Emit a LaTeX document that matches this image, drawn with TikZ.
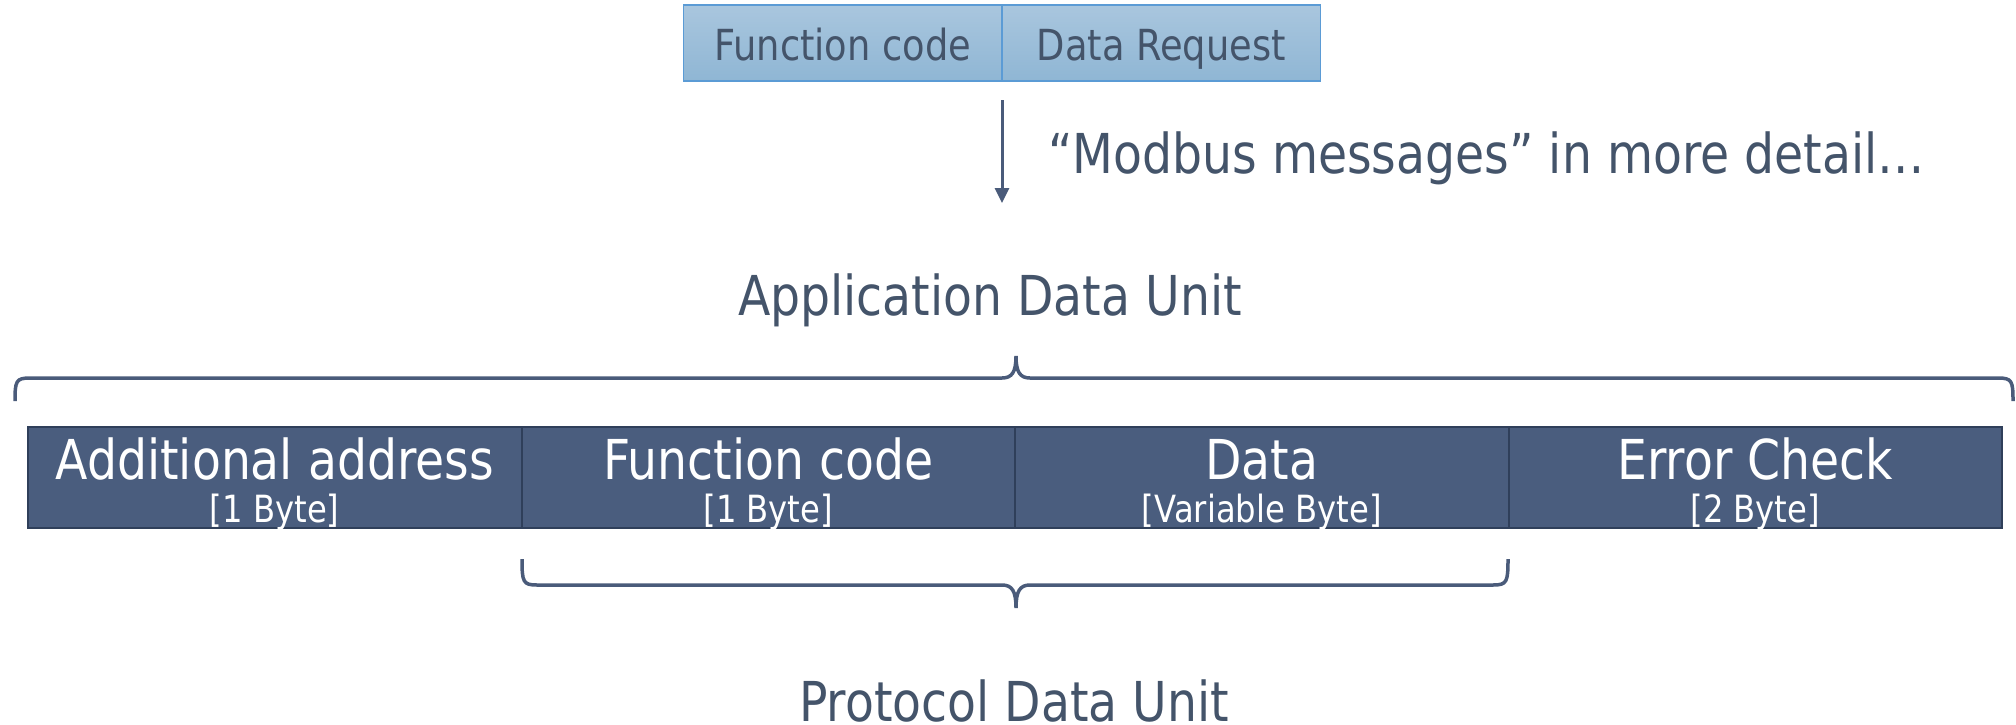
\documentclass[tikz,border=0pt]{standalone}
\usepackage{fontspec}
\setmainfont[FakeStretch=0.86]{DejaVu Sans}
\usetikzlibrary{arrows.meta}
\definecolor{txt}{HTML}{44546A}
\definecolor{cellfill}{HTML}{4A5D7E}
\definecolor{celldraw}{HTML}{2F3F5A}
\definecolor{brc}{HTML}{4A5B7A}
\definecolor{tfillA}{HTML}{A9C6DE}
\definecolor{tfillB}{HTML}{8FB6D4}
\definecolor{tdraw}{HTML}{5B9BD5}
\tikzset{
  x=1pt, y=-1pt,
  topcell/.style={draw=tdraw, line width=1.2pt, top color=tfillA, bottom color=tfillB,
    minimum width=318.5pt, minimum height=76pt, inner sep=0pt},
  toplbl/.style={text=txt, font=\fontsize{42.8}{50}\selectfont, anchor=base, inner sep=0pt},
  cell/.style={draw=celldraw, line width=2pt, fill=cellfill,
    minimum width=493.5pt, minimum height=101pt, inner sep=0pt},
  mainlbl/.style={text=white, font=\fontsize{55}{60}\selectfont, anchor=base, inner sep=0pt},
  sublbl/.style={text=white, font=\fontsize{37.5}{42}\selectfont, anchor=base, inner sep=0pt},
  biglbl/.style={text=txt, font=\fontsize{55}{60}\selectfont, anchor=base, inner sep=0pt},
  brace/.style={draw=brc, line width=3.5pt},
  arr/.style={draw=brc, line width=3pt, -{Triangle[width=14pt,length=15pt]}}
}
\begin{document}
\begin{tikzpicture}
\useasboundingbox (0,0) rectangle (2016,724);
% top boxes
\node[topcell] (t1) at (842.75,43) {};
\node[topcell] (t2) at (1161.25,43) {};
\node[toplbl] (t1l) at (842.75,60) {Function code};
\node[toplbl] (t2l) at (1161.25,60) {Data Request};
% arrow
\coordinate (as) at (1002,100);
\coordinate (ae) at (1002,203);
\draw[arr] (as) -- (ae);
\node[biglbl, anchor=base west] (mm) at (1048,173) {“Modbus messages” in more detail…};
% application data unit
\node[biglbl] (adu) at (990,315) {Application Data Unit};
\path[brace] (15,401) .. controls (15,381) and (16,378) .. (30,378) -- (1002,378)
  .. controls (1012,378) and (1016,372) .. (1016,356)
  .. controls (1016,372) and (1020,378) .. (1030,378) -- (1998,378)
  .. controls (2012,378) and (2013,381) .. (2013,401);
% cells
\node[cell] (c1) at (274.75,477.5) {};
\node[cell] (c2) at (768.25,477.5) {};
\node[cell] (c3) at (1261.75,477.5) {};
\node[cell] (c4) at (1755.25,477.5) {};
\node[mainlbl] (c1a) at (274.75,479) {Additional address};
\node[sublbl] (c1b) at (274.75,522) {[1 Byte]};
\node[mainlbl] (c2a) at (768.25,479) {Function code};
\node[sublbl] (c2b) at (768.25,522) {[1 Byte]};
\node[mainlbl] (c3a) at (1261.75,479) {Data};
\node[sublbl] (c3b) at (1261.75,522) {[Variable Byte]};
\node[mainlbl] (c4a) at (1755.25,479) {Error Check};
\node[sublbl] (c4b) at (1755.25,522) {[2 Byte]};
% lower brace
\path[brace] (522,559) .. controls (522,582) and (523,585) .. (537,585) -- (1002,585)
  .. controls (1012,585) and (1016,591) .. (1016,608)
  .. controls (1016,591) and (1020,585) .. (1030,585) -- (1493,585)
  .. controls (1507,585) and (1508,582) .. (1508,559);
\node[biglbl] (pdu) at (1014,721) {Protocol Data Unit};
\end{tikzpicture}
\end{document}
